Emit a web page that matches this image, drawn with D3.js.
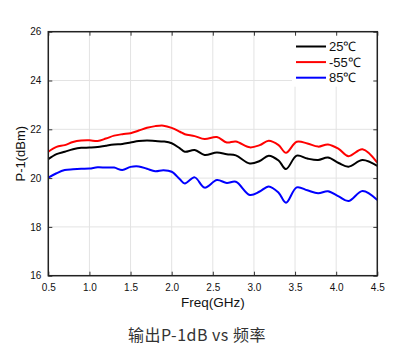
<!DOCTYPE html>
<html>
<head>
<meta charset="utf-8">
<script src="https://cdn.jsdelivr.net/npm/d3@7"></script>
<style>
  html, body { margin: 0; padding: 0; background: #fff; }
  svg { display: block; }
</style>
</head>
<body>
<svg id="chart" width="414" height="355"></svg>
<script>
// ---- data ----
const freqs = [0.5,0.6,0.7,0.8,0.9,1.0,1.1,1.2,1.3,1.4,1.5,1.6,1.7,1.8,1.9,2.0,2.1,2.16,2.28,2.4,2.55,2.67,2.78,2.95,3.07,3.18,3.3,3.39,3.52,3.65,3.78,3.9,4.03,4.15,4.32,4.5];
const p25 = [20.78,20.98,21.08,21.18,21.24,21.25,21.27,21.33,21.38,21.40,21.46,21.52,21.54,21.52,21.50,21.43,21.22,21.08,21.15,20.95,21.05,20.98,20.93,20.60,20.70,20.92,20.72,20.37,20.92,20.80,20.74,20.84,20.62,20.47,20.74,20.50];
const pm55 = [21.08,21.28,21.35,21.48,21.54,21.55,21.52,21.62,21.74,21.80,21.84,21.95,22.06,22.13,22.15,22.06,21.90,21.80,21.72,21.60,21.68,21.46,21.50,21.26,21.35,21.53,21.35,21.04,21.49,21.42,21.29,21.38,21.20,20.90,21.18,20.63];
const p85 = [20.02,20.20,20.33,20.36,20.38,20.39,20.44,20.43,20.43,20.33,20.46,20.48,20.38,20.28,20.32,20.26,19.95,19.78,20.03,19.61,19.92,19.80,19.85,19.31,19.45,19.66,19.40,18.99,19.62,19.50,19.38,19.46,19.25,19.06,19.47,19.10];
const seriesNames = ["25℃", "-55℃", "85℃"];
const seriesValues = [p25, pm55, p85];
const seriesColors = ["#000000", "#ff0000", "#0000ff"];
const xTicks = [0.5,1.0,1.5,2.0,2.5,3.0,3.5,4.0,4.5];
const yTicks = [16,18,20,22,24,26];
const xTitle = "Freq(GHz)";
const yTitle = "P-1(dBm)";
const caption = "输出P-1dB vs 频率";

// ---- layout ----
const svg = d3.select("#chart");
const L = 48.3, R = 377.3, T = 31.7, B = 275.7;
const x = d3.scaleLinear().domain([0.5, 4.5]).range([L, R]);
const y = d3.scaleLinear().domain([16, 26]).range([B, T]);
const font = "'Liberation Sans', Arial, sans-serif";

// grid
const grid = svg.append("g");
grid.selectAll("line.v").data(xTicks).join("line")
  .attr("x1", d => x(d)).attr("x2", d => x(d)).attr("y1", T).attr("y2", B)
  .attr("stroke", "#e3e3e3").attr("stroke-width", 1);
grid.selectAll("line.h").data(yTicks).join("line")
  .attr("y1", d => y(d)).attr("y2", d => y(d)).attr("x1", L).attr("x2", R)
  .attr("stroke", "#e3e3e3").attr("stroke-width", 1);

// series
const line = d3.line().curve(d3.curveCatmullRom.alpha(0.5));
seriesValues.forEach((vals, i) => {
  svg.append("path")
    .attr("d", line(freqs.map((f, j) => [x(f), y(vals[j])])))
    .attr("fill", "none")
    .attr("stroke", seriesColors[i])
    .attr("stroke-width", 2)
    .attr("stroke-linejoin", "round");
});

// legend (white box)
const lg = svg.append("g");
lg.append("rect").attr("x", 292).attr("y", T + 1).attr("width", R - 292 - 1).attr("height", 54).attr("fill", "#fff");
seriesNames.forEach((n, i) => {
  const ly = 46.5 + i * 15.6;
  lg.append("line").attr("x1", 296).attr("x2", 326).attr("y1", ly).attr("y2", ly)
    .attr("stroke", seriesColors[i]).attr("stroke-width", 2);
  lg.append("text").attr("x", 329).attr("y", ly).attr("dy", "0.36em")
    .attr("font-family", font).attr("font-size", 13).attr("fill", "#111").text(n);
});

// axes (inward ticks)
const axStyle = g => {
  g.select(".domain").remove();
  g.selectAll(".tick line").attr("stroke", "#333").attr("stroke-width", 1);
  g.selectAll(".tick text").attr("font-family", font).attr("font-size", 10).attr("fill", "#111");
};
svg.append("g").attr("transform", `translate(0,${B})`)
  .call(d3.axisBottom(x).tickValues(xTicks).tickFormat(d3.format(".1f")).tickSizeInner(-4).tickSizeOuter(0).tickPadding(8))
  .call(axStyle);
svg.append("g").attr("transform", `translate(${L},0)`)
  .call(d3.axisLeft(y).tickValues(yTicks).tickFormat(d3.format("d")).tickSizeInner(-4).tickSizeOuter(0).tickPadding(7))
  .call(axStyle);
svg.append("g").attr("transform", `translate(0,${T})`)
  .call(d3.axisTop(x).tickValues(xTicks).tickFormat("").tickSizeInner(-4).tickSizeOuter(0))
  .call(axStyle);
svg.append("g").attr("transform", `translate(${R},0)`)
  .call(d3.axisRight(y).tickValues(yTicks).tickFormat("").tickSizeInner(-4).tickSizeOuter(0))
  .call(axStyle);

// frame
svg.append("rect").attr("x", L).attr("y", T).attr("width", R - L).attr("height", B - T)
  .attr("fill", "none").attr("stroke", "#222").attr("stroke-width", 1.5);

// titles
svg.append("text").attr("x", (L + R) / 2).attr("y", 307).attr("text-anchor", "middle")
  .attr("font-family", font).attr("font-size", 13.5).attr("fill", "#111").text(xTitle);
svg.append("text").attr("transform", `translate(24.5,${(T + B) / 2}) rotate(-90)`).attr("text-anchor", "middle")
  .attr("font-family", font).attr("font-size", 13).attr("fill", "#111").text(yTitle);
svg.append("text").attr("x", 197).attr("y", 341).attr("text-anchor", "middle")
  .attr("font-family", "'Noto Sans CJK SC', sans-serif").attr("font-size", 16).attr("letter-spacing", 0.5)
  .attr("fill", "#333").text(caption);
</script>
</body>
</html>
